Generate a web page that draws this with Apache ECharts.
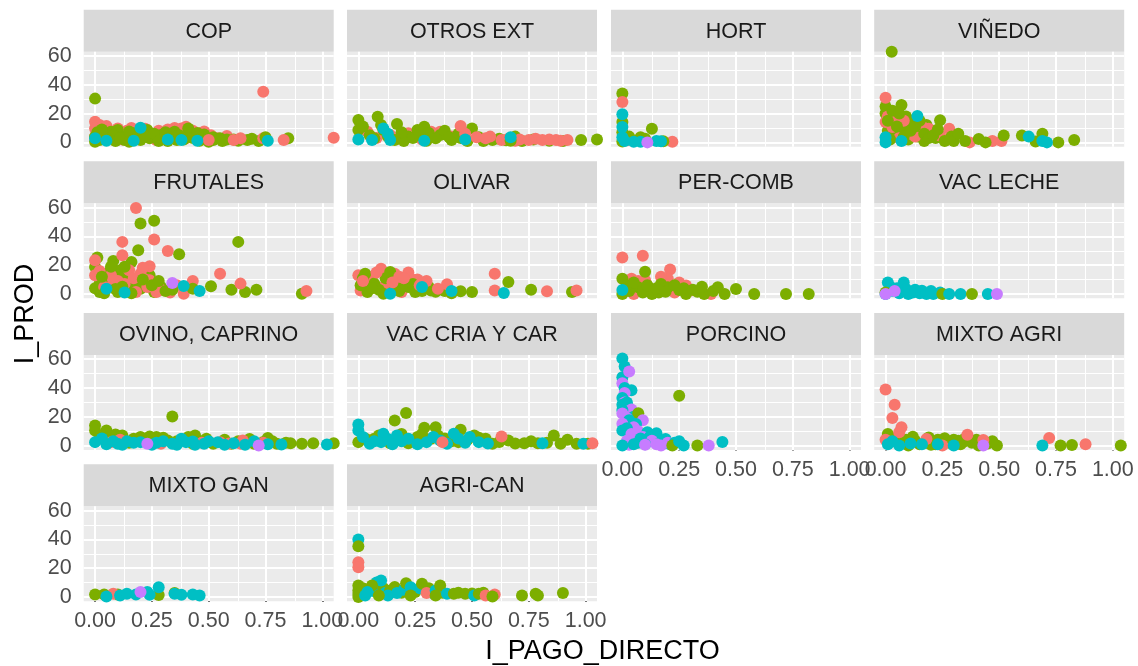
<!DOCTYPE html>
<html>
<head>
<meta charset="utf-8">
<script src="https://cdn.jsdelivr.net/npm/echarts@6/dist/echarts.min.js"></script>
<style>
  html, body { margin: 0; padding: 0; background: #ffffff; }
  #chart { width: 1138px; height: 666px; }
</style>
</head>
<body>
<div id="chart"></div>
<script>
// Facet names, in reading order (4 per row)
const facets = ['COP', 'OTROS EXT', 'HORT', 'VIÑEDO',
                'FRUTALES', 'OLIVAR', 'PER-COMB', 'VAC LECHE',
                'OVINO, CAPRINO', 'VAC CRIA Y CAR', 'PORCINO', 'MIXTO AGRI',
                'MIXTO GAN', 'AGRI-CAN'];

// Axis ticks and labels
const xTicks = [0, 0.25, 0.5, 0.75, 1];
const xTickLabels = ['0.00', '0.25', '0.50', '0.75', '1.00'];
const xMinor = [0.125, 0.375, 0.625, 0.875];
const yTicks = [0, 20, 40, 60];
const yMinor = [10, 30, 50];

// Group colours (index = third value of each point)
const palette = ['#F8766D', '#7CAE00', '#00BFC4', '#C77CFF'];

// Points per facet: [I_PAGO_DIRECTO, I_PROD, group]; drawn in array order
const cop = [
  [0,14.4,0],[0.02,12,0],[0.05,11.4,0],[0,9.7,0],[0.1,9.7,0],[0.14,8,0],[0.2,6.7,0],[0.24,6.3,0],
  [0.32,9,0],[0.38,9.7,0],[0.4,10.9,0],[0.46,6.3,0],[0.51,5,0],[0,4,0],[0.07,6.3,0],[0.17,4,0],
  [0.27,1.6,0],[0.4,2.8,0],[0.54,2.8,0],[0.3,4.5,0],[0.12,2,0],
  [0.06,8.5,0],[0.16,10,0],[0.22,9.5,0],[0.28,8,0],[0.35,10,0],[0.43,8,0],[0.48,7.5,0],[0.58,4.5,0],
  [0,4,1],[0,0.5,1],[0.02,1.6,1],[0.07,7.4,1],[0.1,8.6,1],[0.13,4,1],[0.17,6.3,1],[0.23,8.6,1],
  [0.24,2.8,1],[0.29,5.1,1],[0.35,7.4,1],[0.36,1.6,1],[0.41,9.7,1],[0.42,6.3,1],[0.46,4,1],
  [0.52,3.5,1],[0.55,2.8,1],[0.58,2,1],[0.61,2,1],[0.67,1.6,1],[0.13,1.6,1],[0.2,1.6,1],
  [0.46,1.2,1],[0.52,1.6,1],[0.39,2,1],[0.05,3,1],[0.09,1,1],[0.27,3,1],[0.32,1,1],[0.49,2.5,1],
  [0.04,5.5,1],[0.03,9,1],[0.08,5,1],[0.11,3,1],[0.15,7.5,1],[0.19,4.5,1],[0.21,8,1],[0.26,6,1],
  [0.28,1,1],[0.31,7,1],[0.33,3.5,1],[0.37,5,1],[0.43,3,1],[0.48,5.5,1],[0.5,0.5,1],[0.56,1,1],
  [0.63,1.2,1],[0.69,2.5,1],[0.72,1,1],[0.15,0.5,1],[0.22,4,1],[0.01,7,1],
  [0.5,1.6,0],[0.61,1.6,0],[0.64,2.8,0],[0.74,2.8,0],
  [0,30.4,1],[0.75,3.5,1],[0.85,2.8,1],[0.45,6.5,1],
  [0.74,35.2,0],[0.83,1.6,0],[1.05,3.2,0],
  [0.2,10.2,2],[0.05,1.2,2],[0.17,1.2,2],[0.32,2,2],[0.38,1.6,2],[0.45,1.2,2],[0.76,1.2,2],[0,2.8,2]
];
const otrosExt = [
  [0.04,7.4,0],[0.32,7.4,0],[0.36,7.4,0],[0.22,6.3,0],[0.41,4,0],[0.14,5.1,0],[0.08,3,0],[0.28,2,0],
  [0,15.5,1],[0.085,17.8,1],[0.17,12.7,1],[0,8.6,1],[0.11,8.6,1],[0.26,8.6,1],[0.29,10.9,1],
  [0.5,9.7,1],[0.36,5.1,1],[0.22,4,1],[0.07,2.8,1],[0.16,1.6,1],[0.34,2.8,1],[0.41,1.6,1],
  [0.2,1,1],[0.05,5,1],[0.3,1.2,1],[0.45,3,1],[0.59,1.6,1],[0.69,4,1],
  [0.02,11,1],[0.1,12,1],[0.13,4,1],[0.19,7,1],[0.24,3,1],[0.27,5,1],[0.31,6.5,1],[0.38,8,1],
  [0.4,3.5,1],[0.44,6,1],[0.48,1,1],[0.53,3.5,1],[0.55,1,1],[0.62,2.5,1],[0.65,1.5,1],[0.72,1,1],
  [0.77,2,1],[0.84,1.2,1],[0.9,1,1],
  [0.47,6,0],[0.52,3.5,0],[0.58,4,0],[0.66,2.5,0],[0.71,2,0],[0.78,2.5,0],[0.84,2,0],[0.89,1.2,0],
  [0.45,11.4,0],[0.56,2.8,0],[0.63,1.6,0],[0.75,1.6,0],[0.81,1.6,0],[0.87,1.6,0],[0.92,1.6,0],[0.69,1.2,0],
  [0.67,1.2,1],[0.98,1.6,1],[1.05,2,1],
  [0,2,2],[0.11,9.7,2],[0.14,1.6,2],[0.29,1.2,2],[0.47,2,2],[0.67,3.5,2],[0.06,1.6,2],[0.13,6,2]
];
const hort = [
  [0.02,1.5,0],[0.22,0.5,0],
  [0,34,1],[0,28,0],[0,14.2,1],[0,7,1],[0,0.6,1],[0.13,9.5,1],[0.08,3.5,1],[0.1,2.5,1],[0.18,0.8,1],[0.03,4,1],
  [0,19.5,2],[0,10.7,2],[0,3.5,2],[0.05,0.5,2],[0.15,1,2],[0.17,0.8,2],[0.08,0.5,2],[0.01,1,2],
  [0.11,0,3]
];
const vinedo = [
  [0,20,1],[0,25,1],[0.07,26,1],[0.1,14,1],[0.07,9.5,1],[0.16,6,1],[0.24,15.4,1],[0.02,12,1],
  [0.04,17,1],[0.09,18,1],[0.12,10,1],[0.14,4,1],[0.18,12,1],[0.2,8,1],[0.05,6,1],[0.1,2,1],
  [0.17,1,1],[0.22,3,1],[0.01,8,1],[0.12,15,1],
  [0,31,0],[0,14.2,0],[0.03,10.7,0],[0.19,9.5,0],[0.28,9.5,0],[0.24,4.7,0],[0.03,20,0],[0.08,15,0],
  [0.11,6,0],[0.17,10,0],[0.37,0,0],[0.47,1,0],[0.51,1,0],[0.27,2,0],[0.06,3,0],
  [0.01,18,0],[0.05,13,0],[0.13,4,0],[0.2,6.5,0],[0.15,12,0],
  [0.01,15,1],[0.03,22,1],[0.05,11,1],[0.06,20,1],[0.08,4,1],[0.11,8,1],[0.13,11,1],[0.15,15,1],
  [0.17,6,1],[0.19,3,1],[0.21,5,1],[0.23,9,1],[0.29,4,1],[0.3,1,1],[0.02,2,1],
  [0.027,63,1],[0.32,6,1],[0.35,1,1],[0.41,2.3,1],[0.44,0,1],[0.52,4.7,1],[0.6,4.7,1],[0.69,6,1],
  [0.66,0.6,1],[0.76,0,1],[0.83,1.6,1],[0.26,1,1],
  [0.14,18.3,2],[0,3.5,2],[0,0,2],[0.07,1,2],[0.63,4,2],[0.69,1,2],[0.71,0,2]
];
const frutales = [
  [0.02,7.2,1],[0.05,10.7,1],[0.08,6,1],[0.11,9.5,1],[0.14,13,1],[0.17,7.2,1],[0.2,3.7,1],[0.23,8.3,1],
  [0.02,1.4,1],[0.1,1.4,1],[0.15,2.5,1],[0.26,1.4,1],[0.29,4.9,1],[0,18.8,1],[0.11,16.5,1],[0.24,13,1],
  [0.01,25.3,1],[0.08,22.9,1],[0.16,22.3,1],[0.06,15,1],[0.19,11,1],[0,4,1],
  [0,23.4,0],[0,13,0],[0.04,4.9,0],[0.07,13,0],[0.15,16.5,0],[0.2,14,0],[0.24,9.5,0],[0.23,4.9,0],
  [0.18,1.4,0],[0.27,6,0],[0.24,19.2,0],[0.21,18.3,0],[0.12,26.9,0],[0.12,36.2,0],[0.26,37.8,0],
  [0.32,29.9,0],[0.18,59.8,0],[0.55,14.1,0],[0.43,9,0],[0.39,0.2,0],[0.27,1.4,0],[0.1,9,0],
  [0.02,16,0],[0.08,9.5,0],[0.13,7,0],[0.17,11,0],[0.22,10,0],[0.29,3,0],[0.33,1,0],[0.36,6,0],
  [0.03,12,1],[0.07,19,1],[0.09,3.5,1],[0.12,5,1],[0.13,19,1],[0.16,0.5,1],[0.21,10,1],[0.25,6,1],
  [0.28,9,1],[0.31,2,1],[0.04,0.5,1],
  [0.2,48.9,1],[0.26,50.8,1],[0.63,36.2,1],[0.19,30.4,1],[0.37,27.6,1],[0.51,5.3,1],[0.43,3.7,1],
  [0.34,3,1],[0.6,3,1],[0.66,1.4,1],[0.71,3,1],[0.91,0.2,1],
  [0.64,7.2,0],[0.93,2.1,0],
  [0.34,7.6,3],
  [0.39,5.6,2],[0.46,2.1,2],[0.05,3.7,2],[0.13,1,2]
];
const olivar = [
  [0.1,17.6,0],[0,13,0],[0.06,11.8,0],[0.16,14.1,0],[0.23,10.7,0],[0.26,10,0],[0.01,2.5,0],[0.19,1.4,0],
  [0.11,4.9,0],[0.04,8,0],[0.13,12,0],[0.2,6,0],
  [0.03,14.1,1],[0.14,15.3,1],[0.07,7.2,1],[0.17,9.5,1],[0.22,4.9,1],[0.28,2.1,1],[0.31,4.9,1],
  [0.04,1.4,1],[0.11,0.2,1],[0.25,1.4,1],[0.32,2.5,1],[0.45,1.9,1],[0.5,1.4,1],[0.01,6,1],[0.18,2,1],[0.09,3,1],
  [0.06,4,1],[0.12,11,1],[0.16,4,1],[0.2,8,1],[0.24,7,1],[0.27,3.5,1],[0.34,1.5,1],[0.38,2,1],
  [0.41,0.5,1],[0.02,11,1],
  [0.02,9,0],[0.08,15,0],[0.15,8,0],[0.18,12,0],[0.22,15,0],[0.27,6,0],[0.3,9,0],
  [0.39,6.7,0],[0.35,3.7,0],[0.6,14.1,0],[0.6,2.5,0],[0.83,1.9,0],[0.28,8,0],[0.2,11,0],
  [0.14,0.2,2],[0.28,4.9,2],[0.41,2.1,2],[0.64,0.7,2],
  [0.66,8.3,1],[0.76,3,1],[0.94,1.4,1],
  [0.96,2.5,0]
];
const perComb = [
  [0,25.4,0],[0.09,26.6,0],[0.21,17,0],[0.04,10.6,0],[0.1,9.5,0],[0.2,10.6,0],[0.05,0,0],[0.14,2.3,0],
  [0.23,1,0],[0.28,5.9,0],[0.39,0,0],
  [0.07,9,0],[0.12,2,0],[0.17,12,0],[0.25,8,0],[0.3,2.5,0],
  [0.1,15.4,1],[0,10.6,1],[0,0,1],[0.07,4.7,1],[0.13,0,1],[0.17,7,1],[0.2,4.7,1],[0.25,2.8,1],
  [0.33,1.6,1],[0.28,0,1],[0.36,0,1],[0.45,0,1],[0.42,4.7,1],[0.5,3.5,1],[0.58,0,1],[0.72,0,1],
  [0.82,0,1],[0.03,2,1],[0.16,1,1],
  [0.02,6,1],[0.05,8,1],[0.09,1,1],[0.11,6,1],[0.15,4,1],[0.19,1.5,1],[0.23,6,1],[0.27,4,1],
  [0.31,3,1],[0.35,5,1],[0.4,2,1],
  [0,2.8,2]
];
const vacLeche = [
  [0.01,8,2],[0.08,8,2],[0,0,2],[0.03,2.3,2],[0.06,0.5,2],[0.09,3.5,2],[0.12,1,2],[0.15,0.5,2],
  [0.18,0,2],[0.21,0,2],[0.1,0,2],[0.16,2.3,2],[0.02,5,2],[0.05,4,2],[0.13,3,2],[0.24,1,2],[0.2,2,2],
  [0,1,1],[0.25,0,1],
  [0.28,0,2],[0.33,0,2],
  [0.38,0,1],
  [0.45,0,2],
  [0,0,3],[0.04,2,3],[0.49,0,3]
];
const ovinoCaprino = [
  [0,14,1],[0,10.5,1],[0.05,10.5,1],[0.09,7.7,1],[0.12,7,1],[0.24,6.3,1],[0.27,5.9,1],[0.44,7,1],
  [0.76,5.2,1],[0.8,1.2,1],[0.86,1.7,1],[0.91,1.2,1],[0.96,1.7,1],[1.05,1.7,1],[0.43,1.2,1],
  [0.52,1.2,1],[0.7,1.2,1],[0.6,1.2,1],[0.32,3.5,1],[0.49,4.7,1],[0.17,4.7,1],[0.34,20.2,1],
  [0.02,6,1],[0.07,4,1],[0.15,2,1],[0.2,6,1],[0.3,5.5,1],[0.36,3,1],[0.41,6,1],[0.47,3,1],
  [0.57,4,1],[0.63,3,1],[0.68,4.5,1],[0.74,2.5,1],[0.78,3,1],[0.84,2,1],
  [0.07,2.4,0],[0.29,1.2,0],[0.64,1.2,0],[0.55,2.4,0],[0.65,3.5,0],[0.11,4,0],[0.47,2,0],[0.59,1.5,0],[0.74,2,0],
  [0,2.4,2],[0.1,1.2,2],[0.14,3,2],[0.2,2.4,2],[0.34,1.2,2],[0.4,2.4,2],[0.48,1.2,2],[0.54,2.4,2],
  [0.61,1.7,2],[0.82,0.8,2],[1.02,0.8,2],[0.38,4.7,2],[0.05,1,2],[0.27,2,2],[0.44,0.5,2],
  [0.03,5,2],[0.08,3,2],[0.12,0.5,2],[0.17,2,2],[0.25,0.5,2],[0.3,3,2],[0.36,0.5,2],[0.43,2.8,2],
  [0.5,3,2],[0.57,0.5,2],[0.66,0.5,2],[0.7,3,2],[0.76,1,2],
  [0.23,1.2,3],[0.72,0,3]
];
const vacCria = [
  [0.21,22.6,1],[0.16,17.5,1],[0,2.4,1],[0.29,12.4,1],[0.34,12.8,1],[0.45,11,1],[0.07,4.7,1],
  [0.26,5.9,1],[0.32,4.7,1],[0.51,7,1],[0.56,4.7,1],[0.66,3.5,1],[0.73,1.7,1],[0.79,1.7,1],
  [0.86,7,1],[0.92,4,1],[0.89,1.2,1],[1.01,1.2,1],[0.22,1.7,1],[0.59,1.2,1],[0.14,1.7,1],
  [0.44,2.4,1],[0.38,5,1],
  [0.03,5,1],[0.09,7,1],[0.12,4.5,1],[0.19,8,1],[0.24,3,1],[0.28,8,1],[0.35,7,1],[0.41,3,1],
  [0.48,4,1],[0.53,5.5,1],[0.62,2.5,1],[0.69,1.5,1],[0.76,3,1],[0.83,2,1],[0.96,1.2,1],
  [0,14.7,2],[0,10.5,2],[0.42,8.2,2],[0.11,8.2,2],[0.17,7,2],[0.1,2.4,2],[0.3,2.4,2],[0.39,1.2,2],
  [0.99,1.2,2],[0.81,1.7,2],[0.53,2.4,2],[0.22,4.7,2],[0.05,1.2,2],[0.02,6,2],[0.44,5,2],
  [0.07,3,2],[0.13,4.5,2],[0.15,1,2],[0.19,3,2],[0.26,1,2],[0.33,6,2],[0.36,3.5,2],[0.47,2,2],
  [0.49,6,2],[0.57,1.5,2],
  [0.37,2.4,0],[0.63,6.3,0],[1.03,1.7,0]
];
const porcino = [
  [0,60.5,2],[0.2,65,2],[0.01,55,2],[0,47.4,2],[0.03,51.5,3],[0,43.3,3],[0.01,40,2],[0.04,38.5,2],
  [0.01,36.6,3],[0,33,2],[0.01,30,3],[0,28.3,2],[0.02,30,2],[0.03,26,2],[0.04,25,3],[0,24.7,2],
  [0,22.3,3],[0.05,20,2],[0.07,22.4,1],[0.02,19,3],[0.09,17.6,3],[0.03,17.6,2],[0.06,15,2],
  [0,15.2,3],[0.05,12.8,3],[0.02,12,2],[0,10.4,2],[0.07,10,3],[0.11,9.2,2],[0.04,8,3],
  [0.15,8.5,2],[0.09,6,3],[0.12,6,2],[0.08,5,2],[0.02,3.3,3],[0.07,2,2],[0.03,0.5,3],
  [0.05,1,2],[0.13,3.3,3],[0.19,4.5,2],[0.1,1,2],[0.1,0.5,3],[0,0,2],[0.16,1.5,2],[0.15,1,3],
  [0.17,0,3],[0.21,1,2],[0.2,2,3],[0.23,2,2],[0.22,0,1],[0.25,3,2],
  [0.27,0,2],[0.33,0,1],[0.38,0,3],[0.44,2.5,2],[0.25,34.7,1]
];
const mixtoAgri = [
  [0.18,2,1],[0.22,1,1],[0.25,3.3,1],[0.33,1,1],[0.41,0,1],[0.1,0,1],[0.13,3.3,1],[0.01,8,1],
  [0.12,6.2,1],[0.26,5.1,1],[0.19,5.6,1],[0.32,3.3,1],[0.38,2,1],[0.49,0,1],[0.06,2,1],[0.45,1.5,1],[0.35,5,1],
  [0.02,4,1],[0.05,6,1],[0.09,4,1],[0.15,1,1],[0.2,0.5,1],[0.23,4,1],[0.28,2,1],[0.3,4,1],
  [0.34,2.5,1],[0.37,4,1],[0.4,4,1],[0.44,2,1],[0.47,3,1],
  [0,39,0],[0.04,28.3,0],[0.03,19.2,0],[0.07,12.8,0],[0.06,9.2,0],[0.36,7.6,0],[0.43,3.8,0],
  [0.18,4.5,0],[0.72,5.2,0],[0,4,0],[0.25,0,0],
  [0.01,1,2],[0.06,0,2],[0.16,1,2],[0.3,0,2],[0.69,0,2],[0.03,3,2],[0.11,1.5,2],[0.23,1,2],
  [0.43,0,3],
  [0.82,0.4,1],[0.77,0,1],[1.035,0,1],
  [0.88,1,0]
];
const mixtoGan = [
  [0,1.7,1],[0.04,1.7,1],[0.1,1.7,1],[0.28,1.3,1],[0.35,2.7,1],
  [0.08,2.2,0],
  [0.05,0.3,2],[0.11,1,2],[0.14,2.2,2],[0.18,1.7,2],[0.23,3.4,2],[0.24,1.5,2],[0.28,6.8,2],
  [0.35,2.2,2],[0.38,1.5,2],[0.43,1.7,2],[0.46,1,2],
  [0.2,3.4,3]
];
const agriCan = [
  [0,40,2],[0,35.3,1],[0,24.2,0],[0,20.7,0],[0,8,1],[0,4.5,1],[0,0,1],[0,2,1],[0.02,6,1],
  [0.03,1,2],[0.07,4,2],[0.08,10,2],[0.11,6,1],[0.12,3,2],[0.16,7,1],[0.19,3,1],[0.2,5,2],
  [0.25,3.5,1],[0.27,6,2],[0.31,6,1],[0.33,2.5,2],[0.37,3,1],[0.44,3,1],[0.5,2.5,1],[0.55,3,1],
  [0.1,11.5,2],[0.06,8,1],[0.04,3.4,2],[0.14,4.5,1],[0.17,2.7,2],[0.21,9.6,1],[0.23,6.8,2],
  [0.23,1,1],[0.28,9.2,1],[0.3,2.7,0],[0.34,4.5,2],[0.36,8,1],[0.34,1,1],[0.39,2.2,2],
  [0.42,2.2,1],[0.47,2.2,1],[0.51,1,2],[0.53,2.2,1],[0.56,1,0],[0.6,1.7,0],[0.59,0.3,1],
  [0.72,1,1],[0.78,2.2,1],[0.79,1,1],[0.9,2.7,1],[0.13,1,2],[0.09,1,1]
];

const panelData = [cop, otrosExt, hort, vinedo, frutales, olivar, perComb, vacLeche,
                   ovinoCaprino, vacCria, porcino, mixtoAgri, mixtoGan, agriCan];

// Layout of the facet grid
const FONT = '"Liberation Sans", Arial, Helvetica, sans-serif';
const colLeft = [83.7, 347, 611, 874.2];
const rowTop = [51.7, 203.3, 354.9, 506.3];
const PW = 250, PH = 95, STRIP = 42;

const grids = [], xAxes = [], yAxes = [], series = [], graphics = [];

// White major/minor grid lines, placed through the axis scales
function gridLines() {
  const major = { color: '#ffffff', width: 2, type: 'solid' };
  const minor = { color: '#ffffff', width: 1, type: 'solid' };
  return [
    ...xMinor.map(v => ({ xAxis: v, lineStyle: minor })),
    ...yMinor.map(v => ({ yAxis: v, lineStyle: minor })),
    ...xTicks.map(v => ({ xAxis: v, lineStyle: major })),
    ...yTicks.map(v => ({ yAxis: v, lineStyle: major }))
  ];
}

facets.forEach((name, i) => {
  const col = i % 4, row = Math.floor(i / 4);
  const left = colLeft[col], top = rowTop[row];
  const showX = i + 4 >= facets.length;
  const showY = col === 0;

  grids.push({ left, top, width: PW, height: PH, show: true,
               backgroundColor: '#EBEBEB', borderWidth: 0 });

  xAxes.push({
    type: 'value', gridIndex: i, min: -0.05, max: 1.05,
    axisLine: { show: false }, splitLine: { show: false },
    axisTick: { show: showX, customValues: xTicks, length: 5,
                lineStyle: { color: '#333333', width: 1.8 } },
    axisLabel: { show: showX, customValues: xTicks, margin: 9,
                 formatter: v => xTickLabels[xTicks.indexOf(v)] ?? v.toFixed(2),
                 color: '#4D4D4D', fontSize: 21.5, fontFamily: FONT }
  });
  yAxes.push({
    type: 'value', gridIndex: i, min: -3, max: 63,
    axisLine: { show: false }, splitLine: { show: false },
    axisTick: { show: showY, customValues: yTicks, length: 5,
                lineStyle: { color: '#333333', width: 1.8 } },
    axisLabel: { show: showY, customValues: yTicks, margin: 12,
                 color: '#4D4D4D', fontSize: 21.5, fontFamily: FONT }
  });

  series.push({
    type: 'scatter', xAxisIndex: i, yAxisIndex: i,
    symbol: 'circle', symbolSize: 12, clip: true, z: 3,
    silent: true, animation: false, emphasis: { disabled: true },
    data: panelData[i].map(p => ({ value: [p[0], p[1]], itemStyle: { color: palette[p[2]], opacity: 1 } })),
    markLine: {
      silent: true, z: 1, animation: false, symbol: ['none', 'none'],
      label: { show: false }, emphasis: { disabled: true },
      data: gridLines()
    }
  });

  // facet strip
  graphics.push({
    type: 'rect', silent: true,
    shape: { x: left, y: top - STRIP, width: PW, height: STRIP },
    style: { fill: '#D9D9D9' }
  });
  graphics.push({
    type: 'text', silent: true,
    x: left + PW / 2, y: top - STRIP / 2 + 1,
    style: { text: name, fill: '#1A1A1A', font: '21.5px ' + FONT,
             align: 'center', verticalAlign: 'middle' }
  });
});

// axis titles
graphics.push({
  type: 'text', silent: true, x: 602.5, y: 652,
  style: { text: 'I_PAGO_DIRECTO', fill: '#000000', font: '27px ' + FONT,
           align: 'center', verticalAlign: 'middle' }
});
graphics.push({
  type: 'text', silent: true, x: 26, y: 314, rotation: Math.PI / 2,
  style: { text: 'I_PROD', fill: '#000000', font: '27px ' + FONT,
           align: 'center', verticalAlign: 'middle' }
});

const chart = echarts.init(document.getElementById('chart'), null, { renderer: 'canvas' });
chart.setOption({
  animation: false,
  backgroundColor: '#ffffff',
  grid: grids,
  xAxis: xAxes,
  yAxis: yAxes,
  series: series,
  graphic: graphics
});
</script>
</body>
</html>
